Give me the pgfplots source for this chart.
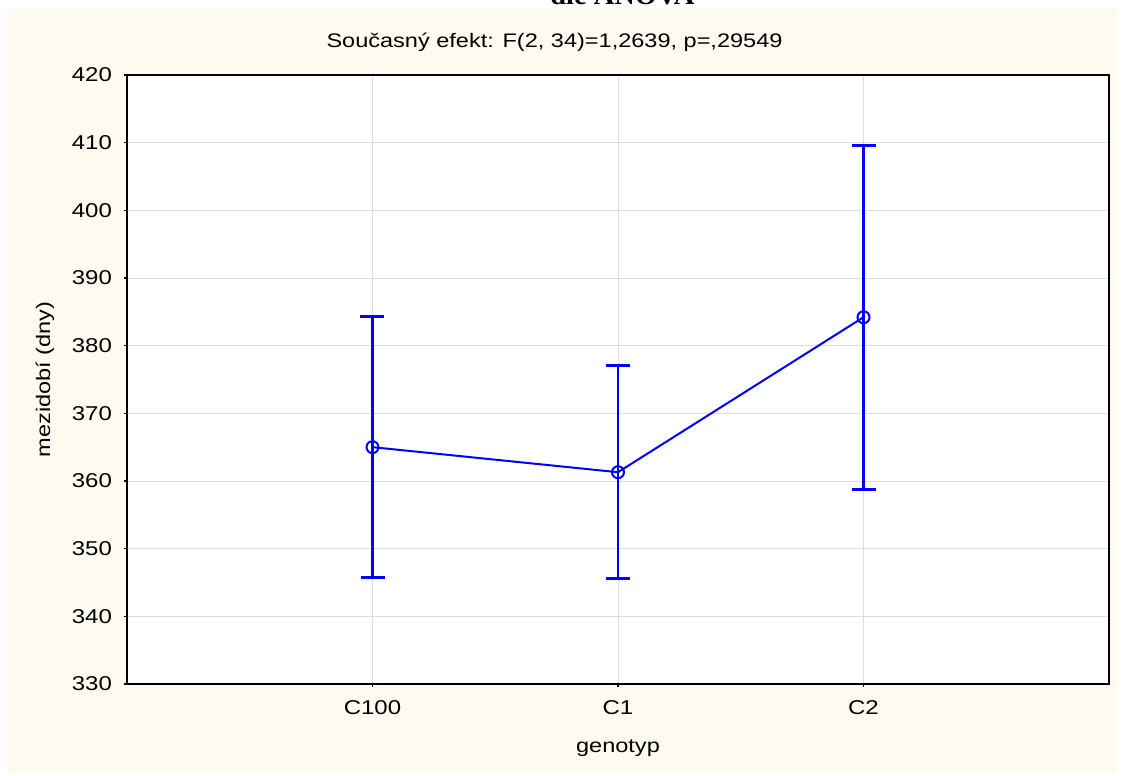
\documentclass[border=0pt]{standalone}
\usepackage{fontspec}
\setmainfont{Liberation Sans}[FakeStretch=1.2]
\newfontfamily\serifbold{Liberation Serif}
\usepackage{pgfplots}
\pgfplotsset{compat=1.18}
\definecolor{cream}{HTML}{FEFAEF}
\definecolor{gridgray}{HTML}{DCDCDC}

\begin{document}
\begin{tikzpicture}[x=0.5pt,y=-0.5pt]
\useasboundingbox (0,0) rectangle (1126,776);
\fill[white] (0,0) rectangle (1126,776);
\fill[cream] (7,9) rectangle (1117,773);
% title cut off at the top edge
\node[anchor=base west,inner sep=0,font=\serifbold\bfseries\fontsize{14.2}{16}\selectfont] at (550,4.5) {dle ANOVA};
\node[anchor=base,inner sep=0,font=\fontsize{9.8}{12}\selectfont] at (554.5,47) {Současný efekt: F(2, 34)=1,2639, p=,29549};

\begin{axis}[
  at={(63.5pt,-342pt)}, anchor=south west,
  scale only axis, width=491pt, height=304.5pt,
  xmin=-1, xmax=3, ymin=330, ymax=420,
  xtick={0,1,2}, xticklabels={C100,C1,C2},
  ytick={330,340,...,420},
  axis background/.style={fill=white},
  grid=major, major grid style={draw=gridgray, line width=0.4pt},
  axis line style={draw=black, line width=1pt},
  tick style={draw=black, line width=0.8pt},
  major tick length=1.5pt, tick align=outside,
  xtick pos=bottom, ytick pos=left,
  /pgf/number format/assume math mode=true,
  ticklabel style={font=\fontsize{10}{12}\selectfont},
  xticklabel style={yshift=-3pt},
  yticklabel style={xshift=-2.5pt},
  label style={font=\fontsize{9.8}{12}\selectfont},
  xlabel={genotyp}, ylabel={mezidobí (dny)},
  xlabel style={at={(axis description cs:0.5,-0.105)}, anchor=center},
  ylabel style={at={(axis description cs:-0.0835,0.5)}, anchor=center},
  clip=false,
]
\addplot[blue, line width=1pt, mark=o, mark size=3pt,
  mark options={line width=1pt},
  error bars/.cd, y dir=both, y explicit,
  error bar style={line width=1.4pt, blue},
  error mark options={rotate=90, mark size=6pt, line width=1.4pt, blue}]
  coordinates {
  (0,365.0) +- (0,19.3)
  (1,361.3) +- (0,15.75)
  (2,384.2) +- (0,25.4)
  };
\end{axis}
\end{tikzpicture}
\end{document}
